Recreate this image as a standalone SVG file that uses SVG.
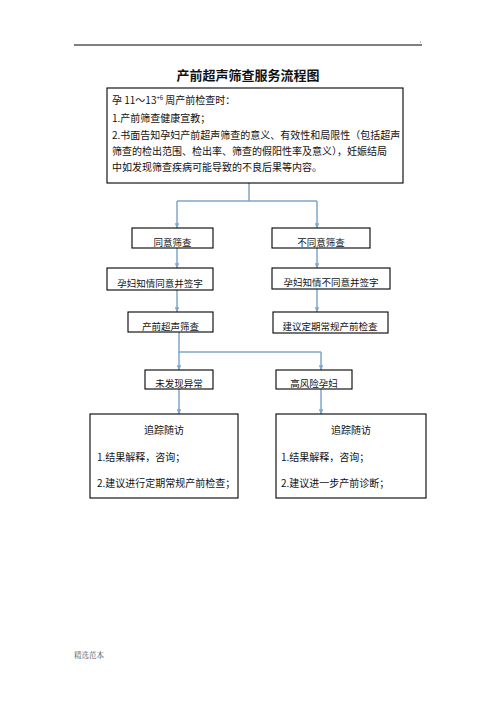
<svg xmlns="http://www.w3.org/2000/svg" width="496" height="702" viewBox="0 0 496 702">
<style>
text{font-family:"Noto Sans CJK SC","Liberation Sans",sans-serif;fill:#111;}
.t{font-size:10px;}
.s{font-size:9.5px;}
.box{fill:#fff;stroke:#000;stroke-width:1.1;}
.c{fill:none;stroke:#7fa6cc;stroke-width:1.5;}
</style>
<defs>
<marker id="ah" viewBox="0 0 10 10" refX="10" refY="5" markerWidth="3.2" markerHeight="3.2" orient="auto" markerUnits="strokeWidth">
<path d="M0,0 L10,5 L0,10 z" fill="#7fa6cc"/>
</marker>
</defs>
<rect width="496" height="702" fill="#fff"/>
<line x1="74" y1="45" x2="422" y2="45" stroke="#000" stroke-width="1"/>
<circle cx="420.5" cy="42" r="0.5" fill="#555"/>
<text x="248" y="80" text-anchor="middle" style="font-size:13px;font-weight:bold">产前超声筛查服务流程图</text>

<g id="connectors">
<path class="c" d="M249,183 V201 M177,201 H317"/>
<path class="c" d="M177,201 V228" marker-end="url(#ah)"/>
<path class="c" d="M317,201 V228" marker-end="url(#ah)"/>
<path class="c" d="M177,248 V268" marker-end="url(#ah)"/>
<path class="c" d="M317,248 V268" marker-end="url(#ah)"/>
<path class="c" d="M177,290 V312" marker-end="url(#ah)"/>
<path class="c" d="M317,289 V312" marker-end="url(#ah)"/>
<path class="c" d="M179,332 V352 H321"/>
<path class="c" d="M179,352 V370" marker-end="url(#ah)"/>
<path class="c" d="M321,352 V370" marker-end="url(#ah)"/>
<path class="c" d="M179,389 V414" marker-end="url(#ah)"/>
<path class="c" d="M321,389 V414" marker-end="url(#ah)"/>
</g>

<g id="intro">
<rect class="box" x="107" y="88" width="296" height="95"/>
<text class="t" x="112" y="104">孕 11～13<tspan dy="-4" style="font-size:6px">+6</tspan><tspan dy="4"> 周产前检查时：</tspan></text>
<text class="t" x="112" y="122">1.产前筛查健康宣教；</text>
<text class="t" x="112" y="139">2.书面告知孕妇产前超声筛查的意义、有效性和局限性（包括超声</text>
<text class="t" x="112" y="155">筛查的检出范围、检出率、筛查的假阳性率及意义），妊娠结局</text>
<text class="t" x="112" y="171">中如发现筛查疾病可能导致的不良后果等内容。</text>
</g>

<g id="agree">
<rect class="box" x="132" y="228" width="81" height="20"/>
<text class="s" x="172.5" y="246" text-anchor="middle">同意筛查</text>
</g>
<g id="disagree">
<rect class="box" x="272" y="228" width="98" height="20"/>
<text class="s" x="321" y="246" text-anchor="middle">不同意筛查</text>
</g>
<g id="consent">
<rect class="box" x="107" y="268" width="106" height="22"/>
<text class="s" x="160" y="287" text-anchor="middle">孕妇知情同意并签字</text>
</g>
<g id="refuse">
<rect class="box" x="272" y="268" width="118" height="21"/>
<text class="s" x="331" y="286" text-anchor="middle">孕妇知情不同意并签字</text>
</g>
<g id="screen">
<rect class="box" x="128" y="312" width="85" height="20"/>
<text class="s" x="170.5" y="330" text-anchor="middle">产前超声筛查</text>
</g>
<g id="routine">
<rect class="box" x="273" y="312" width="115" height="21"/>
<text class="s" x="330" y="330" text-anchor="middle">建议定期常规产前检查</text>
</g>
<g id="normal">
<rect class="box" x="145" y="370" width="68" height="19"/>
<text class="s" x="179" y="387" text-anchor="middle">未发现异常</text>
</g>
<g id="highrisk">
<rect class="box" x="276" y="370" width="76" height="19"/>
<text class="s" x="314" y="387" text-anchor="middle">高风险孕妇</text>
</g>

<g id="follow-left">
<rect class="box" x="90" y="414" width="148" height="84"/>
<text class="t" x="164" y="434" text-anchor="middle">追踪随访</text>
<text class="t" x="97" y="461">1.结果解释，咨询；</text>
<text class="t" x="97" y="487">2.建议进行定期常规产前检查；</text>
</g>
<g id="follow-right">
<rect class="box" x="276" y="414" width="150" height="84"/>
<text class="t" x="351" y="434" text-anchor="middle">追踪随访</text>
<text class="t" x="281" y="461">1.结果解释，咨询；</text>
<text class="t" x="281" y="487">2.建议进一步产前诊断；</text>
</g>

<text x="74" y="658" style="font-family:'Noto Serif CJK SC','Liberation Serif','Noto Sans CJK SC',serif;font-size:7.5px;fill:#555">精选范本</text>
</svg>
